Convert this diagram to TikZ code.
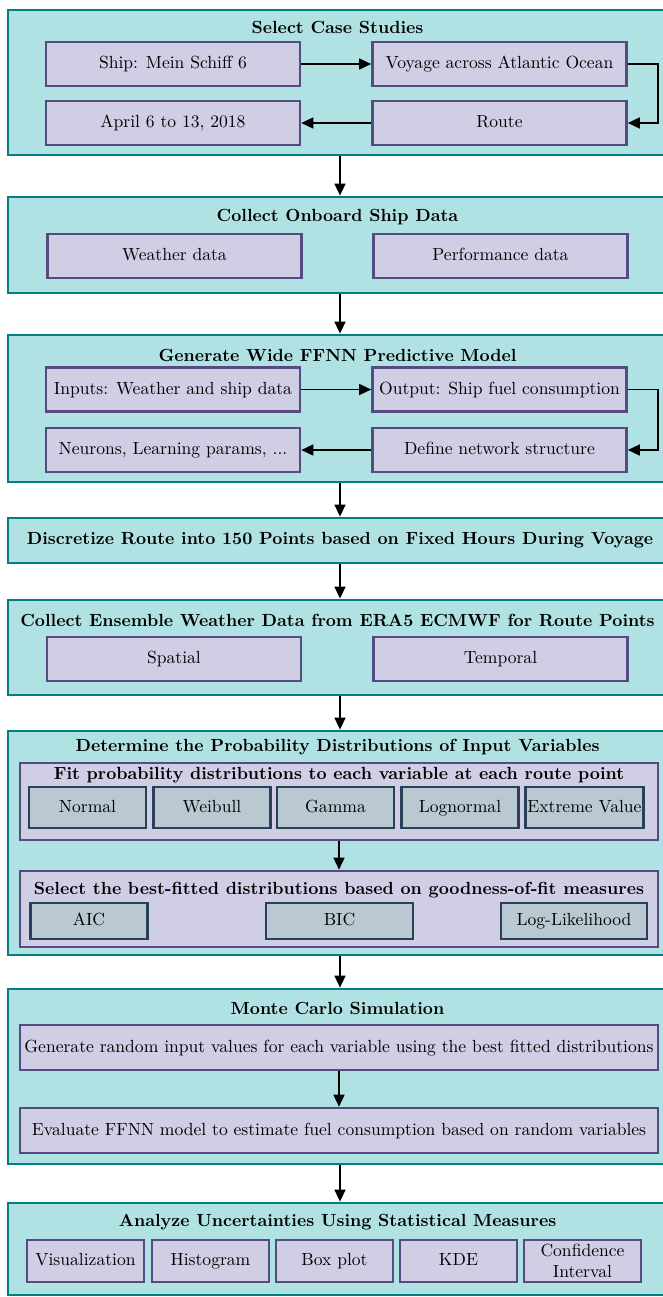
\documentclass[tikz,border=0pt]{standalone}
\usetikzlibrary{arrows.meta,positioning}

\definecolor{stagefill}{RGB}{176,226,228}
\definecolor{stageline}{RGB}{0,128,128}
\definecolor{partfill}{RGB}{208,206,228}
\definecolor{partline}{RGB}{85,75,130}
\definecolor{leaffill}{RGB}{186,200,210}
\definecolor{leafline}{RGB}{40,64,90}

\begin{document}
\begin{tikzpicture}[
  stage/.style={draw=stageline, fill=stagefill, line width=1.6pt,
                minimum width=13.28cm, inner sep=0pt},
  part/.style={draw=partline, fill=partfill, line width=1.5pt,
               minimum width=5.08cm, minimum height=.88cm, inner sep=2pt,
               text height=1.6ex, text depth=.4ex, align=center},
  wide/.style={part, minimum width=12.76cm},
  leaf/.style={draw=leafline, fill=leaffill, line width=1.5pt,
               minimum width=2.34cm, minimum height=.82cm, inner sep=1pt,
               text height=1.6ex, text depth=.4ex, align=center},
  ttl/.style={font=\bfseries, inner sep=1pt},
  arr/.style={-{Triangle[length=2.4mm,width=2.2mm]}, line width=.9pt, black}
]
\useasboundingbox (0,0) rectangle (13.24,-25.94);

% stage 1: case studies
\node[stage, minimum height=2.9cm] (s1) at (6.8,-1.65) {};
\node[ttl] (t1) at (6.75,-.54) {Select Case Studies};
\node[part] (ship) at (3.46,-1.28) {Ship: Mein Schiff 6};
\node[part] (voyage) at (9.99,-1.28) {Voyage across Atlantic Ocean};
\node[part] (route) at (9.99,-2.46) {Route};
\node[part] (dates) at (3.46,-2.46) {April 6 to 13, 2018};
\draw[arr] (ship) -- (voyage);
\draw[arr] (voyage.east) -- ++(.6,0) |- (route.east);
\draw[arr] (route) -- (dates);

% stage 2: onboard data
\node[stage, minimum height=1.92cm] (s2) at (6.8,-4.9) {};
\node[ttl] (t2) at (6.75,-4.34) {Collect Onboard Ship Data};
\node[part] (weather) at (3.49,-5.12) {Weather data};
\node[part] (perf) at (10.01,-5.12) {Performance data};

% stage 3: predictive model
\node[stage, minimum height=2.94cm] (s3) at (6.8,-8.17) {};
\node[ttl] (t3) at (6.75,-7.1) {Generate Wide FFNN Predictive Model};
\node[part] (inputs) at (3.46,-7.79) {Inputs: Weather and ship data};
\node[part] (output) at (9.99,-7.79) {Output: Ship fuel consumption};
\node[part] (struct) at (9.99,-9.0) {Define network structure};
\node[part] (params) at (3.46,-9.0) {Neurons, Learning params, ...};
\draw[arr] (inputs) -- (output);
\draw[arr] (output.east) -- ++(.6,0) |- (struct.east);
\draw[arr] (struct) -- (params);

% stage 4: route points
\node[stage, minimum height=.9cm, font=\bfseries] (s4) at (6.8,-10.81)
  {Discretize Route into 150 Points based on Fixed Hours During Voyage};

% stage 5: ensemble weather
\node[stage, minimum height=1.9cm] (s5) at (6.8,-12.95) {};
\node[ttl] (t5) at (6.75,-12.4) {Collect Ensemble Weather Data from ERA5 ECMWF for Route Points};
\node[part] (spatial) at (3.48,-13.18) {Spatial};
\node[part] (temporal) at (10.01,-13.18) {Temporal};

% stage 6: distributions
\node[stage, minimum height=4.48cm] (s6) at (6.8,-16.86) {};
\node[ttl] (t6) at (6.75,-14.94) {Determine the Probability Distributions of Input Variables};
\node[wide, minimum height=1.54cm] (fit) at (6.78,-16.03) {};
\node[ttl] (tfit) at (6.78,-15.5) {Fit probability distributions to each variable at each route point};
\foreach \x/\d/\n in {1.75/Normal/nrm, 4.24/Weibull/wbl, 6.71/Gamma/gam,
                      9.2/Lognormal/lgn, 11.69/Extreme Value/ext}
  \node[leaf] (\n) at (\x,-16.15) {\d};
\node[wide, minimum height=1.52cm] (best) at (6.78,-18.18) {};
\node[ttl] (tbest) at (6.78,-17.8) {Select the best-fitted distributions based on goodness-of-fit measures};
\node[leaf, minimum height=.72cm] (aic) at (1.78,-18.42) {AIC};
\node[leaf, minimum height=.72cm, minimum width=2.94cm] (bic) at (6.79,-18.42) {BIC};
\node[leaf, minimum height=.72cm, minimum width=2.92cm] (llh) at (11.48,-18.42) {Log-Likelihood};
\draw[arr] (fit) -- (best);

% stage 7: monte carlo
\node[stage, minimum height=3.5cm] (s7) at (6.8,-21.53) {};
\node[ttl] (t7) at (6.75,-20.16) {Monte Carlo Simulation};
\node[wide, minimum height=.9cm] (gen) at (6.78,-20.95)
  {Generate random input values for each variable using the best fitted distributions};
\node[wide, minimum height=.9cm] (eval) at (6.78,-22.61)
  {Evaluate FFNN model to estimate fuel consumption based on random variables};
\draw[arr] (gen) -- (eval);

% stage 8: statistics
\node[stage, minimum height=1.84cm] (s8) at (6.8,-24.98) {};
\node[ttl] (t8) at (6.75,-24.44) {Analyze Uncertainties Using Statistical Measures};
\foreach \x/\d/\n in {1.71/Visualization/vis, 4.21/Histogram/hst, 6.69/Box plot/box,
                      9.17/KDE/kde}
  \node[part, minimum width=2.34cm, minimum height=.84cm, inner sep=1pt] (\n) at (\x,-25.22) {\d};
\node[part, minimum width=2.34cm, minimum height=.84cm, inner sep=1pt,
      text height=, text depth=] (ci) at (11.65,-25.22) {Confidence\\Interval};

% flow between stages
\foreach \a/\b in {s1/s2, s2/s3, s3/s4, s4/s5, s5/s6, s6/s7, s7/s8}
  \draw[arr] (\a) -- (\b);
\end{tikzpicture}
\end{document}
